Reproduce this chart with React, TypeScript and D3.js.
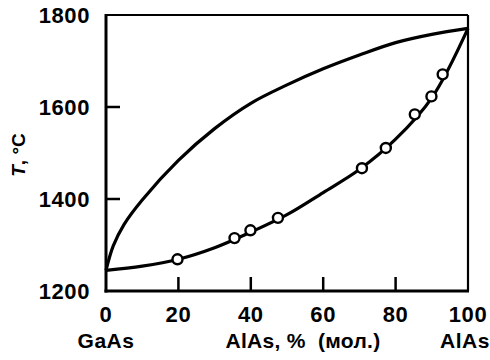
import React from "react";
import * as d3 from "d3";

const yTicks = [1200, 1400, 1600, 1800];
const xTicks = [0, 20, 40, 60, 80, 100];

// upper curve (liquidus)
const upperX = [0, 2, 5, 10, 20, 30, 40, 50, 60, 70, 80, 90, 100];
const upperT = [1245, 1298, 1345, 1398, 1484, 1553, 1608, 1648, 1683, 1713, 1740, 1758, 1771];

// lower curve (solidus)
const lowerX = [0, 10, 20, 30, 40, 50, 60, 70, 80, 90, 100];
const lowerT = [1245, 1254, 1269, 1294, 1328, 1366, 1414, 1464, 1530, 1620, 1771];

// measured points
const pointX = [19.75, 35.5, 39.9, 47.5, 70.7, 77.3, 85.3, 89.9, 93];
const pointT = [1269, 1315, 1332, 1359, 1467, 1511, 1584, 1623, 1671];

const FONT = "'Liberation Sans', Arial, Helvetica, sans-serif";

export default function App() {
  const left = 106, right = 468, top = 15, bottom = 291;
  const x = d3.scaleLinear().domain([0, 100]).range([left, right]);
  const y = d3.scaleLinear().domain([1200, 1800]).range([bottom, top]);

  const line = d3
    .line<[number, number]>()
    .x((d) => x(d[0]))
    .y((d) => y(d[1]))
    .curve(d3.curveCatmullRom.alpha(0.5));

  const upper = line(upperX.map((v, i) => [v, upperT[i]]) as [number, number][]);
  const lower = line(lowerX.map((v, i) => [v, lowerT[i]]) as [number, number][]);

  return (
    <svg
      width={490}
      height={360}
      style={{ position: "absolute", left: 0, top: 0, background: "#fff" }}
      fontFamily={FONT}
    >
      <rect x={0} y={0} width={490} height={360} fill="#fff" />
      {/* frame */}
      <line x1={left} y1={top} x2={right} y2={top} stroke="#000" strokeWidth={2.2} />
      <line x1={right} y1={top} x2={right} y2={bottom} stroke="#000" strokeWidth={2.2} />
      <line x1={left} y1={top - 1} x2={left} y2={bottom + 1.5} stroke="#000" strokeWidth={3} />
      <line x1={left - 1.5} y1={bottom} x2={right + 1} y2={bottom} stroke="#000" strokeWidth={3} />
      {/* y ticks */}
      {yTicks.map((t) => (
        <g key={"y" + t}>
          {t !== 1200 && t !== 1800 && (
            <line x1={left} x2={left + 14} y1={y(t)} y2={y(t)} stroke="#000" strokeWidth={2.5} />
          )}
          <text
            x={left - 16}
            y={y(t)}
            dy="0.36em"
            textAnchor="end"
            fontSize={22}
            fontWeight="bold"
            letterSpacing={0.6}
          >
            {t}
          </text>
        </g>
      ))}
      {/* x ticks */}
      {xTicks.map((t) => (
        <g key={"x" + t}>
          {t !== 0 && t !== 100 && (
            <line x1={x(t)} x2={x(t)} y1={bottom} y2={bottom - 14} stroke="#000" strokeWidth={2.5} />
          )}
          <text x={x(t)} y={322} textAnchor="middle" fontSize={22} fontWeight="bold" letterSpacing={0.6}>
            {t}
          </text>
        </g>
      ))}
      {/* curves */}
      <path d={upper || ""} fill="none" stroke="#000" strokeWidth={3.2} />
      <path d={lower || ""} fill="none" stroke="#000" strokeWidth={3.2} />
      {pointX.map((v, i) => (
        <circle key={"p" + i} cx={x(v)} cy={y(pointT[i])} r={5} fill="#fff" stroke="#000" strokeWidth={2.4} />
      ))}
      {/* axis labels */}
      <text x={106} y={348} textAnchor="middle" fontSize={21} fontWeight="bold" letterSpacing={0.5}>GaAs</text>
      <text x={303} y={348} textAnchor="middle" fontSize={21} fontWeight="bold" letterSpacing={0.3} style={{ whiteSpace: "pre" }}>
        {"AlAs, %  (мол.)"}
      </text>
      <text x={465} y={348} textAnchor="middle" fontSize={21} fontWeight="bold" letterSpacing={0.5}>AlAs</text>
      <text
        transform="translate(25,155) rotate(-90)"
        textAnchor="middle"
        fontSize={19}
        fontWeight="bold"
      >
        <tspan fontStyle="italic">T</tspan>, °C
      </text>
    </svg>
  );
}
